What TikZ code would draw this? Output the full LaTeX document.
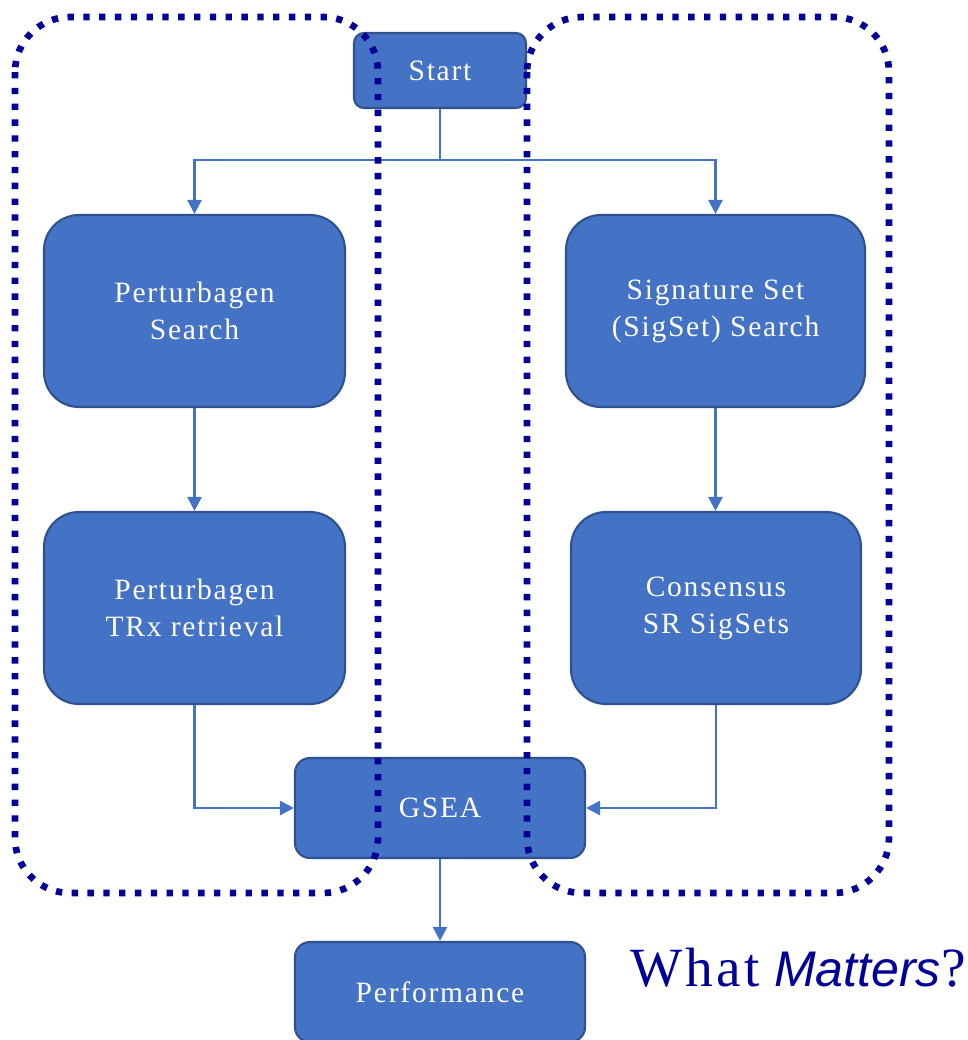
\documentclass[tikz,border=0pt]{standalone}
\usepackage{fontspec}
\setmainfont{Liberation Serif}
\newfontfamily\boxfont[LetterSpace=6]{Liberation Serif}
\newfontfamily\whatfont[LetterSpace=6]{Liberation Serif}
\newfontfamily\mattersfont{Liberation Sans}
\usetikzlibrary{arrows.meta}
\definecolor{boxblue}{HTML}{4472C4}
\definecolor{boxedge}{HTML}{2F528F}
\definecolor{navy}{HTML}{000099}
\tikzset{
  stepbox/.style={draw=boxedge, line width=1.2pt, fill=boxblue, text=white,
    rounded corners=0.7cm, align=center,
    font=\boxfont\fontsize{16.8}{21}\selectfont},
  link/.style={draw=boxblue, line width=1.4pt, -{Triangle[width=8pt,length=8pt]}},
  frame/.style={navy, line width=3.8pt, dash pattern=on 3.6pt off 5.4pt, rounded corners=1.1cm}
}
\begin{document}
\begin{tikzpicture}
        \useasboundingbox (0,0) rectangle (19.36,-20.8);
        \node[stepbox, rounded corners=0.2cm, minimum width=3.44cm, minimum height=1.5cm] (start) at (8.8,-1.41) {Start};
        \node[stepbox, minimum width=6.02cm, minimum height=3.84cm] (pbsearch) at (3.89,-6.22) {Perturbagen\\Search};
        \node[stepbox, minimum width=5.98cm, minimum height=3.84cm] (sssearch) at (14.31,-6.22) {Signature Set\\(SigSet) Search};
        \node[stepbox, minimum width=6.02cm, minimum height=3.84cm] (trx) at (3.89,-12.16) {Perturbagen\\TRx retrieval};
        \node[stepbox, minimum width=5.8cm, minimum height=3.84cm] (consensus) at (14.32,-12.16) {Consensus\\SR SigSets};
        \node[stepbox, rounded corners=0.3cm, minimum width=5.8cm, minimum height=2cm] (gsea) at (8.8,-16.16) {GSEA};
        \node[stepbox, rounded corners=0.3cm, minimum width=5.8cm, minimum height=2cm] (perf) at (8.8,-19.84) {Performance};
        \node[anchor=base west, inner sep=0pt, navy, font=\fontsize{31.5}{36}\selectfont] (what) at (12.6,-19.72) {{\whatfont What} {\mattersfont\fontsize{28.5}{36}\selectfont\itshape Matters}?};
        % connectors
        \coordinate (split) at (8.8,-3.2);
        \draw[link] (start.south) -- (split) -| (pbsearch.north);
        \draw[link] (split) -| (sssearch.north);
        \draw[link] (pbsearch) -- (trx);
        \draw[link] (sssearch.south) -- (sssearch.south |- consensus.north);
        \draw[link] (trx.south) |- (gsea.west);
        \draw[link] (consensus.south) |- (gsea.east);
        \draw[link] (gsea) -- (perf);
        % dotted frames
        \draw[frame] (0.3,-0.34) rectangle (7.56,-17.86);
        \draw[frame] (10.54,-0.34) rectangle (17.78,-17.86);
\end{tikzpicture}
\end{document}
